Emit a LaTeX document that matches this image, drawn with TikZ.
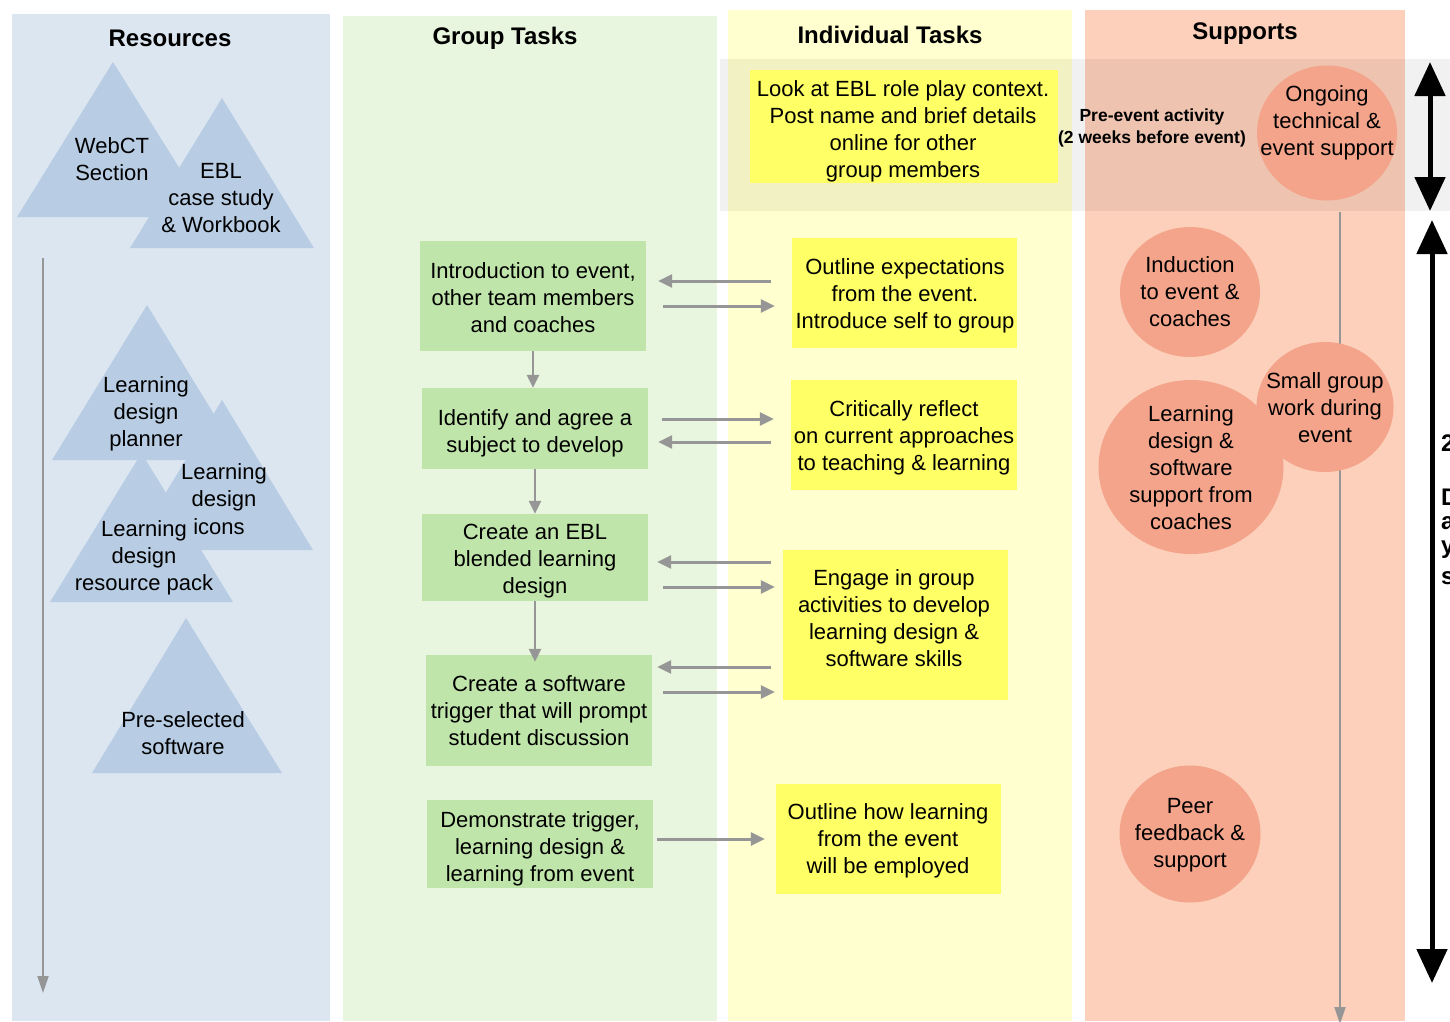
\documentclass[tikz,border=0pt]{standalone}
\usepackage{fontspec}
\setmainfont{Liberation Sans}
\usetikzlibrary{shapes.geometric,arrows.meta}
\definecolor{resbg}{RGB}{220,230,241}
\definecolor{grpbg}{RGB}{233,246,223}
\definecolor{indbg}{RGB}{255,255,208}
\definecolor{supbg}{RGB}{252,208,187}
\definecolor{tricol}{RGB}{184,205,228}
\definecolor{gboxcol}{RGB}{192,229,170}
\definecolor{yboxcol}{RGB}{255,255,102}
\definecolor{circcol}{RGB}{244,164,138}
\definecolor{arrgray}{RGB}{150,150,150}
\begin{document}
\begin{tikzpicture}[x=1pt,y=-1pt,
  bodytxt/.style={font=\fontsize{22}{27}\selectfont, align=center, inner sep=0pt},
  headtxt/.style={font=\fontsize{24}{28}\selectfont\bfseries, inner sep=0pt},
  notetxt/.style={font=\fontsize{17.5}{22}\selectfont\bfseries, align=center, inner sep=0pt},
  gbox/.style={fill=gboxcol, inner sep=0pt},
  ybox/.style={fill=yboxcol, inner sep=0pt},
  circnode/.style={ellipse, fill=circcol, inner sep=0pt},
  harrow/.style={draw=arrgray, line width=3pt, -{Triangle[width=13pt,length=14pt]}},
  varrow/.style={draw=arrgray, line width=2.5pt, -{Triangle[width=12pt,length=13pt]}},
  garrow/.style={draw=arrgray, line width=2pt, -{Triangle[width=11pt,length=17pt]}},
  bigarrow/.style={draw=black, line width=5pt, {Triangle[width=30pt,length=34pt]}-{Triangle[width=30pt,length=34pt]}}
]
\useasboundingbox (0,0) rectangle (1450,1021);
\fill[white] (0,0) rectangle (1450,1021);
% columns
\fill[resbg] (12,14) rectangle (330,1021);
\fill[grpbg] (343,16) rectangle (717,1021);
\fill[indbg] (728,10) rectangle (1072,1021);
\fill[supbg] (1085,10) rectangle (1405,1021);
% pre-event band
\fill[black,opacity=0.055] (720,59) rectangle (1450,211);
% headings
\node[headtxt] (hres) at (170,38) {Resources};
\node[headtxt] (hgrp) at (505,38) {Group Tasks};
\node[headtxt] (hind) at (890,34.5) {Individual Tasks};
\node[headtxt] (hsup) at (1245,34) {Supports};
% triangles
\fill[tricol] (113,62) -- (210,217) -- (17,217) -- cycle;
\fill[tricol] (222,98) -- (314,248) -- (130,248) -- cycle;
\fill[tricol] (147,305) -- (242,460) -- (52,460) -- cycle;
\fill[tricol] (222,400) -- (313,550) -- (131,550) -- cycle;
\fill[tricol] (141.5,453) -- (233,602) -- (50,602) -- cycle;
\fill[tricol] (186,618) -- (282,773) -- (92,773) -- cycle;
\node[bodytxt] (twebct) at (112,159) {WebCT\\Section};
\node[bodytxt] (tebl) at (221,198) {EBL\\case study\\\& Workbook};
\node[bodytxt] (tplanner) at (146,414) {Learning\\design\\planner};
\node[bodytxt] (ticons) at (224,487) {Learning\\design};
\node[bodytxt] (ticons2) at (219,527) {icons};
\node[bodytxt] (tpack) at (144,557.5) {Learning\\design\\resource pack};
\node[bodytxt] (tsoft) at (183,733.5) {Pre-selected\\software};
% left timeline arrow
\coordinate (la1) at (43,258);
\coordinate (la2) at (43,993);
\draw[garrow] (la1) -- (la2);
% group task boxes
\node[gbox, minimum width=226pt, minimum height=110pt] (g1) at (533,296) {};
\node[gbox, minimum width=226pt, minimum height=81pt] (g2) at (535,428.5) {};
\node[gbox, minimum width=226pt, minimum height=87pt] (g3) at (535,557.5) {};
\node[gbox, minimum width=226pt, minimum height=111pt] (g4) at (539,710.5) {};
\node[gbox, minimum width=226pt, minimum height=88pt] (g5) at (540,844) {};
\node[bodytxt] (tg1) at (533,298) {Introduction to event,\\other team members\\and coaches};
\node[bodytxt] (tg2) at (535,433.5) {Identify and agree a\\subject to develop};
\node[bodytxt] (tg3) at (535,561.5) {Create an EBL\\blended learning\\design};
\node[bodytxt] (tg4) at (539,710.5) {Create a software\\trigger that will prompt\\student discussion};
\node[bodytxt] (tg5) at (540,849) {Demonstrate trigger,\\learning design \&\\learning from event};
% individual task boxes
\node[ybox, minimum width=308pt, minimum height=113pt] (y0) at (904,126.5) {};
\node[ybox, minimum width=225pt, minimum height=110pt] (y1) at (904.5,293) {};
\node[ybox, minimum width=226pt, minimum height=110pt] (y2) at (904,435) {};
\node[ybox, minimum width=225pt, minimum height=150pt] (y3) at (895.5,625) {};
\node[ybox, minimum width=225pt, minimum height=110pt] (y4) at (888.5,839) {};
\node[bodytxt] (ty0) at (903,131.5) {Look at EBL role play context.\\Post name and brief details\\online for other\\group members};
\node[bodytxt] (ty1) at (905,296) {Outline expectations\\from the event.\\Introduce self to group};
\node[bodytxt] (ty2) at (904,438) {Critically reflect\\on current approaches\\to teaching \& learning};
\node[bodytxt] (ty3) at (894,618) {Engage in group\\activities to develop\\learning design \&\\software skills};
\node[bodytxt] (ty4) at (888,841) {Outline how learning\\from the event\\will be employed};
% vertical arrows between group boxes
\draw[varrow] (g1.south) -- (g1.south |- g2.north);
\draw[varrow] (g2.south) -- (g2.south |- g3.north);
\draw[varrow] (g3.south) -- ([yshift=-7pt]g3.south |- g4.north);
% horizontal arrows
\draw[harrow, shorten <=21pt, shorten >=12pt] (y1.west |- 0,281) -- (g1.east |- 0,281);
\draw[harrow, shorten <=17pt, shorten >=17pt] (g1.east |- 0,306) -- (y1.west |- 0,306);
\draw[harrow, shorten <=14pt, shorten >=17pt] (g2.east |- 0,419) -- (y2.west |- 0,419);
\draw[harrow, shorten <=20pt, shorten >=10pt] (y2.west |- 0,442) -- (g2.east |- 0,442);
\draw[harrow, shorten <=12pt, shorten >=9pt] (y3.west |- 0,562) -- (g3.east |- 0,562);
\draw[harrow, shorten <=15pt, shorten >=8pt] (g3.east |- 0,587) -- (y3.west |- 0,587);
\draw[harrow, shorten <=12pt, shorten >=5pt] (y3.west |- 0,667) -- (g4.east |- 0,667);
\draw[harrow, shorten <=11pt, shorten >=8pt] (g4.east |- 0,692) -- (y3.west |- 0,692);
\draw[harrow, shorten <=4pt, shorten >=11pt] (g5.east |- 0,839) -- (y4.west |- 0,839);
% supports timeline line
\coordinate (sl1) at (1340,212);
\coordinate (sl2) at (1340,1024);
\draw[garrow] (sl1) -- (sl2);
% support circles
\node[circnode, minimum width=140pt, minimum height=135pt] (c0) at (1327,133) {};
\node[circnode, minimum width=140pt, minimum height=130pt] (c1) at (1190,292) {};
\node[circnode, minimum width=137pt, minimum height=130pt] (c2) at (1325,407) {};
\node[circnode, minimum width=185pt, minimum height=174pt] (c3) at (1191,467) {};
\node[circnode, minimum width=141pt, minimum height=137pt] (c4) at (1190,834) {};
\node[bodytxt] (tc0) at (1327,123) {Ongoing\\technical \&\\event support};
\node[bodytxt] (tc1) at (1190,292) {Induction\\to event \&\\coaches};
\node[bodytxt] (tc2) at (1325,408) {Small group\\work during\\event};
\node[bodytxt] (tc3) at (1191,468) {Learning\\design \&\\software\\support from\\coaches};
\node[bodytxt] (tc4) at (1190,835.5) {Peer\\feedback \&\\support};
% pre-event note
\node[notetxt] (pre) at (1152,128) {Pre-event activity\\(2 weeks before event)};
% black double arrows
\coordinate (ba1) at (1430,62);
\coordinate (ba2) at (1430,211);
\coordinate (bb1) at (1432,220);
\coordinate (bb2) at (1432,983);
\draw[bigarrow] (ba1) -- (ba2);
\draw[bigarrow] (bb1) -- (bb2);
% letters cut off at the right edge, as in the reference
\node[headtxt, anchor=west] (r2) at (1441,443) {2};
\node[headtxt, anchor=west] (rd) at (1441,497) {D};
\node[headtxt, anchor=west] (ra) at (1441,523) {a};
\node[headtxt, anchor=west] (ry) at (1441,550) {y};
\node[headtxt, anchor=west] (rs) at (1441,578) {s};
\end{tikzpicture}
\end{document}
